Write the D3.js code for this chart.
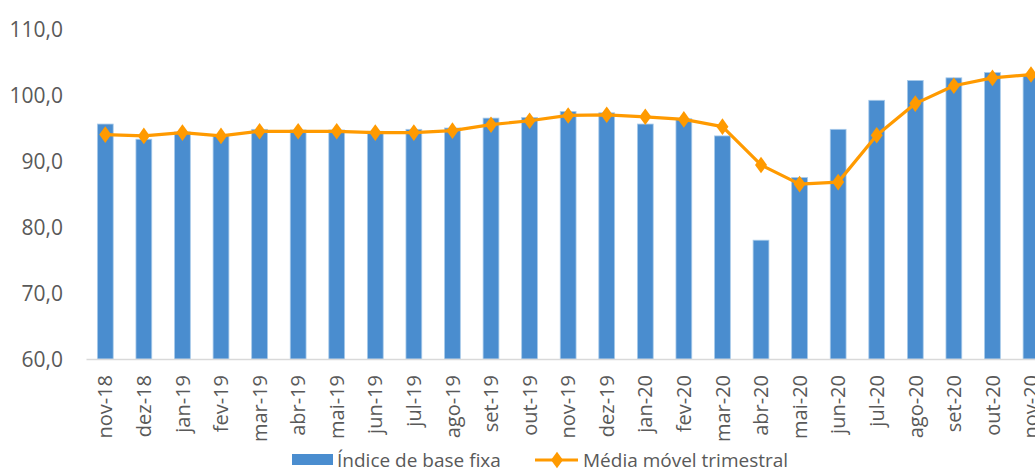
<!DOCTYPE html>
<html>
<head>
<meta charset="utf-8">
<script src="https://cdn.jsdelivr.net/npm/d3@7"></script>
<style>
  html, body { margin: 0; padding: 0; background: #fff; overflow: hidden; }
  svg { display: block; }
  text { font-family: "Open Sans", "Liberation Sans", sans-serif; fill: #595959; }
</style>
</head>
<body>
<svg id="chart" width="1035" height="469"></svg>
<script>
const categories = ["nov-18","dez-18","jan-19","fev-19","mar-19","abr-19","mai-19","jun-19","jul-19","ago-19","set-19","out-19","nov-19","dez-19","jan-20","fev-20","mar-20","abr-20","mai-20","jun-20","jul-20","ago-20","set-20","out-20","nov-20"];
const indiceBaseFixa = [95.6,93.3,94.4,93.9,94.8,94.7,94.7,94.5,94.8,95.0,96.5,96.6,97.5,97.3,95.6,96.4,93.8,78.0,87.5,94.8,99.2,102.2,102.6,103.4,103.0];
const mediaMovel = [94.0,93.8,94.3,93.8,94.5,94.5,94.5,94.3,94.3,94.6,95.5,96.1,96.9,97.0,96.7,96.3,95.2,89.4,86.5,86.8,93.9,98.7,101.4,102.6,103.1];
const yTicks = [60,70,80,90,100,110];
const seriesNames = ["Índice de base fixa","Média móvel trimestral"];

const svg = d3.select("#chart");
const plotLeft = 86, plotRight = 1050.3, plotTop = 29, plotBottom = 359;

const x = d3.scaleBand().domain(categories).range([plotLeft, plotRight]).paddingInner(0.59).paddingOuter(0.295);
const y = d3.scaleLinear().domain([60,110]).range([plotBottom, plotTop]);
const fmt = v => d3.format(".1f")(v).replace(".", ",");

// y axis labels
const yAxis = d3.axisLeft(y).tickValues(yTicks).tickFormat(fmt).tickSize(0).tickPadding(0);
const gy = svg.append("g").attr("transform", "translate(63,0)").call(yAxis);
gy.select(".domain").remove();
gy.selectAll("text").style("font-size", "21px").style("font-family", "'Open Sans', sans-serif").attr("fill", "#595959").attr("dy", "0.36em");

// bars
svg.append("g").selectAll("rect").data(indiceBaseFixa).join("rect")
  .attr("x", (d,i) => x(categories[i]))
  .attr("width", x.bandwidth())
  .attr("y", d => y(d))
  .attr("height", d => y(60) - y(d))
  .attr("fill", "#4A8DCF")
  .attr("stroke", "#A9CBEA")
  .attr("stroke-width", 0.8);

// x axis
const xAxis = d3.axisBottom(x).tickSize(0).tickPadding(0);
const gx = svg.append("g").attr("transform", `translate(0,${plotBottom})`).call(xAxis);
gx.select(".domain").attr("stroke", "#D9D9D9").attr("stroke-width", 1.5);
gx.selectAll("text")
  .style("font-size", "20px").style("font-family", "'Open Sans', sans-serif")
  .attr("fill", "#595959")
  .attr("text-anchor", "end")
  .attr("transform", "rotate(-90)")
  .attr("x", -16).attr("y", 0).attr("dy", "0.36em").attr("dx", 0);

// line
const cx = (i) => x(categories[i]) + x.bandwidth()/2;
const line = d3.line().x((d,i) => cx(i)).y(d => y(d));
svg.append("path").datum(mediaMovel)
  .attr("d", line).attr("fill", "none")
  .attr("stroke", "#FF9A00").attr("stroke-width", 3.2).attr("stroke-linejoin", "round");
const diamond = d3.symbol().type(d3.symbolDiamond).size(80);
svg.append("g").selectAll("path").data(mediaMovel).join("path")
  .attr("d", diamond)
  .attr("transform", (d,i) => `translate(${cx(i)},${y(d)}) scale(1.25,1)`)
  .attr("fill", "#FF9A00");

// legend
const lg = svg.append("g");
lg.append("rect").attr("x", 292).attr("y", 454).attr("width", 41).attr("height", 11).attr("fill", "#4A8DCF");
lg.append("text").attr("x", 337).attr("y", 460).attr("dy", "0.36em").style("font-size", "19px").text(seriesNames[0]);
lg.append("line").attr("x1", 535).attr("x2", 578).attr("y1", 460).attr("y2", 460).attr("stroke", "#FF9A00").attr("stroke-width", 3.2);
lg.append("path").attr("d", diamond).attr("transform", "translate(557,460) scale(1.25,1)").attr("fill", "#FF9A00");
lg.append("text").attr("x", 583).attr("y", 460).attr("dy", "0.36em").style("font-size", "19px").text(seriesNames[1]);
</script>
</body>
</html>
